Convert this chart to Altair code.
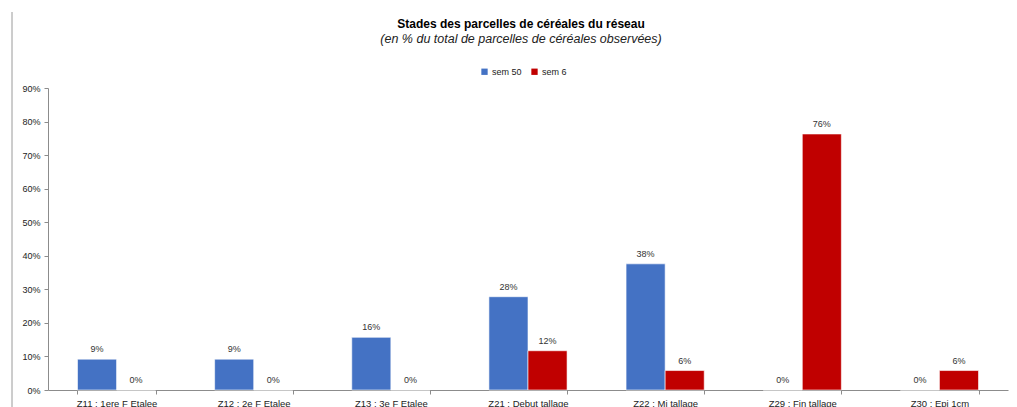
import altair as alt
import pandas as pd

stages = ["Z11 : 1ere F Etalee", "Z12 : 2e F Etalee", "Z13 : 3e F Etalee",
          "Z21 : Debut tallage", "Z22 : Mi tallage", "Z29 : Fin tallage", "Z30 : Epi 1cm"]
series = ["sem 50", "sem 6"]
sem50 = [0.092, 0.092, 0.157, 0.278, 0.376, 0.0, 0.0]
sem6 = [0.0, 0.0, 0.0, 0.117, 0.058, 0.763, 0.058]
colors = ["#4472C4", "#C00000"]

rows = []
for i, s in enumerate(stages):
    rows.append({"stade": s, "semaine": series[0], "valeur": sem50[i]})
    rows.append({"stade": s, "semaine": series[1], "valeur": sem6[i]})
df = pd.DataFrame(rows)

W, H = 960, 302

x = alt.X("stade:N", sort=stages, title=None,
          scale=alt.Scale(paddingInner=0.43, paddingOuter=0.215),
          axis=alt.Axis(labelAngle=0, tickBand="extent", domainColor="#8c8c8c",
                        tickColor="#8c8c8c", tickSize=4, labelFontSize=9.5,
                        labelColor="#222222", labelPadding=4, labelFont="Liberation Sans"))
y = alt.Y("valeur:Q", title=None,
          scale=alt.Scale(domain=[0, 0.9]),
          axis=alt.Axis(format=".0%", values=[i / 10 for i in range(10)], grid=False,
                        domainColor="#8c8c8c", tickColor="#8c8c8c", tickSize=4,
                        labelFontSize=9, labelColor="#222222", labelPadding=4,
                        labelFont="Liberation Sans"))
xo = alt.XOffset("semaine:N", sort=series)

base = alt.Chart(df)
bars = base.mark_bar(stroke="white", strokeWidth=0.6).encode(
    x=x, y=y, xOffset=xo,
    color=alt.Color("semaine:N", sort=series,
                    scale=alt.Scale(domain=series, range=colors),
                    legend=alt.Legend(title=None, orient="none", direction="horizontal",
                                      legendX=432, legendY=-21, symbolType="square",
                                      symbolSize=40, symbolStrokeWidth=0,
                                      labelFontSize=9, labelColor="#222222",
                                      labelFont="Liberation Sans", columnPadding=8,
                                      labelOffset=3)),
)
labels = base.mark_text(baseline="bottom", dy=-5, fontSize=9, color="#333333",
                        font="Liberation Sans").encode(
    x=x, y=y, xOffset=xo,
    text=alt.Text("valeur:Q", format=".0%"),
)
border = alt.Chart(pd.DataFrame({"b": [0]})).mark_rule(color="#9a9a9a", strokeWidth=1).encode(
    x=alt.value(-36), y=alt.value(-76), y2=alt.value(H + 20)
)

chart = alt.layer(border, bars, labels).properties(
    width=W, height=H,
    title=alt.TitleParams(
        "Stades des parcelles de céréales du réseau",
        subtitle="(en %  du total de parcelles de céréales observées)",
        font="Liberation Sans", fontSize=12, fontWeight="bold", color="#000000",
        subtitleFont="Liberation Sans", subtitleFontSize=12.5, subtitleFontStyle="italic",
        subtitleColor="#222222", subtitlePadding=2, anchor="middle", dx=-7, offset=-35,
    ),
    autosize=alt.AutoSizeParams(type="none"),
    padding={"left": 40, "top": 80, "right": 1, "bottom": 17},
).configure_view(stroke=None)

chart.save("out.html", embed_options={"renderer": "svg", "actions": False})
